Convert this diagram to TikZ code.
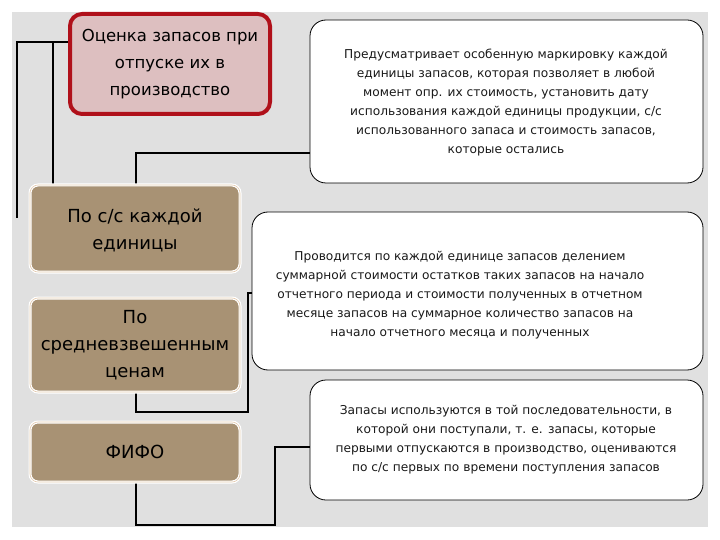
\documentclass[tikz,border=0pt]{standalone}
\usepackage{fontspec}
\setmainfont{DejaVu Sans}
\begin{document}
\begin{tikzpicture}[x=1pt,y=-1pt,
  wbox/.style={draw=black,fill=white,rounded corners=16pt,line width=0.8pt},
  bbox/.style={draw=white,double=brown!40,fill=bro,rounded corners=8pt,line width=1.2pt},
  wtxt/.style={align=center,font=\fontsize{12.2}{19}\selectfont,text=black!90},
  btxt/.style={align=center,font=\fontsize{18}{27}\selectfont},
  conn/.style={draw=black,line width=1.6pt}]
\definecolor{bro}{HTML}{A89274}
\definecolor{pinkf}{HTML}{DDBFC0}
\definecolor{redb}{HTML}{B0101A}
\useasboundingbox (0,0) rectangle (720,540);
\fill[white] (0,0) rectangle (720,540);
\fill[black!12] (12,12) rectangle (708,527);
% connectors
\coordinate (l1) at (17,218);
\draw[conn] (68,42) -| (l1);
\draw[conn] (68,42) -| (53,185);
\draw[conn] (136,185) |- (310,153);
\draw[conn] (136,392) |- (248,412) -- (248,293) -- (252,293);
\draw[conn] (136,482) |- (275,525) |- (310,447);
% boxes
\node[draw=redb,fill=pinkf,line width=4pt,rounded corners=12pt,minimum width=200pt,minimum height=100pt,btxt,font=\fontsize{16.5}{27}\selectfont] (top) at (170,64) {Оценка запасов при\\отпуске их в\\производство};
\path[bbox] (30,185) rectangle (240,272);
\node[btxt] (b1) at (135,230) {По с/с каждой\\единицы};
\path[bbox] (30,298) rectangle (240,392);
\node[btxt] (b2) at (135,345) {По\\средневзвешенным\\ценам};
\path[bbox] (30,422) rectangle (240,482);
\node[btxt] (b3) at (135,452) {ФИФО};
\path[wbox] (310,20) rectangle (703,183);
\node[wtxt] (w1) at (506,103) {Предусматривает особенную маркировку каждой\\единицы запасов, которая позволяет в любой\\момент опр. их стоимость, установить дату\\использования каждой единицы продукции, с/с\\использованного запаса и стоимость запасов,\\которые остались};
\path[wbox] (252,212) rectangle (703,370);
\node[wtxt] (w2) at (460,295) {Проводится по каждой единице запасов делением\\суммарной стоимости остатков таких запасов на начало\\отчетного периода и стоимости полученных в отчетном\\месяце запасов на суммарное количество запасов на\\начало отчетного месяца и полученных};
\path[wbox] (310,380) rectangle (703,500);
\node[wtxt] (w3) at (506,440) {Запасы используются в той последовательности, в\\которой они поступали, т. е. запасы, которые\\первыми отпускаются в производство, оцениваются\\по с/с первых по времени поступления запасов};
\end{tikzpicture}
\end{document}
